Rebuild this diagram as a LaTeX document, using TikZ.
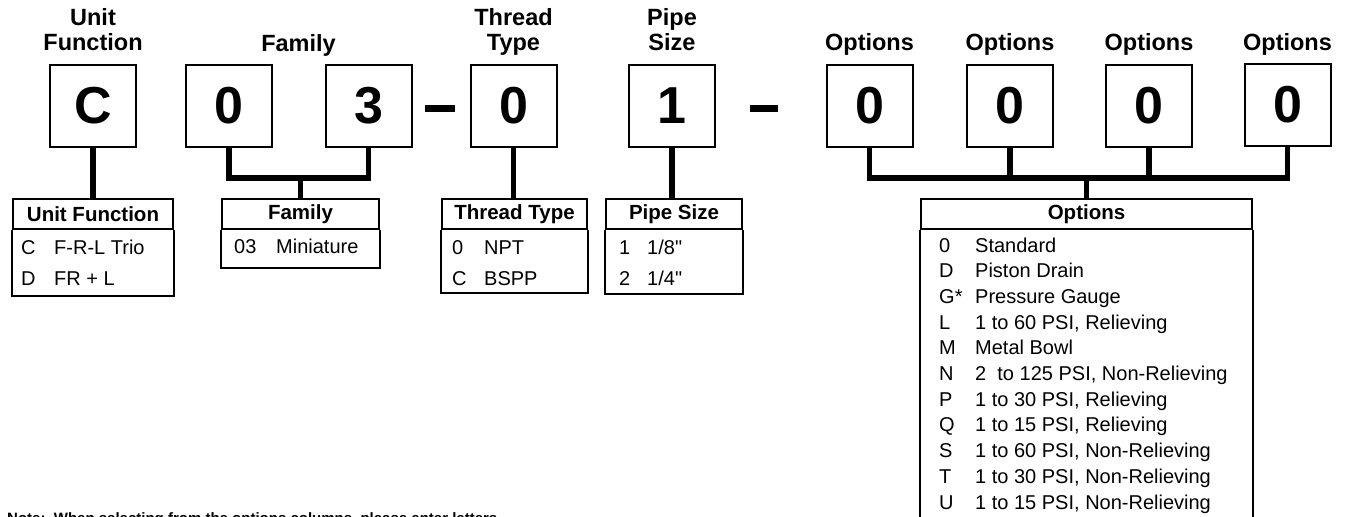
\documentclass[tikz,border=0pt]{standalone}
\usepackage{fontspec}
\setmainfont{Liberation Sans}[Ligatures=TeXOff]
\usetikzlibrary{positioning}

\tikzset{
  codebox/.style={draw, line width=2pt, minimum width=86pt, minimum height=82pt, inner sep=0pt, font=\bfseries\fontsize{52}{52}\selectfont},
  caption/.style={align=center, inner sep=0pt, text depth=0pt, font=\bfseries\fontsize{23.5}{25}\selectfont},
  link/.style={line width=5.5pt},
  dashbar/.style={line width=7pt},
  thead/.style={draw, line width=2pt, minimum height=30pt, inner sep=0pt, font=\bfseries\fontsize{20.5}{20.5}\selectfont},
  tframe/.style={line width=2pt},
  entry/.style={anchor=base west, inner sep=0pt, font=\fontsize{20}{20}\selectfont},
  note/.style={anchor=base west, inner sep=0pt, font=\bfseries\fontsize{15}{15}\selectfont},
}

\begin{document}
\begin{tikzpicture}[x=1pt,y=1pt,yscale=-1]
\useasboundingbox (0,0) rectangle (1361,517);

% code boxes
\node[codebox] (uf) at (93,106) {C};
\node[codebox] (fam0) at (229,106) {0};
\node[codebox] (fam3) at (368.5,106) {3};
\node[codebox] (thr) at (513.5,106) {0};
\node[codebox] (pipe) at (672,106) {1};
\node[codebox] (opt1) at (869.5,106) {0};
\node[codebox] (opt2) at (1010,106) {0};
\node[codebox] (opt3) at (1149,106) {0};
\node[codebox] (opt4) at (1287.5,105) {0};

% dashes between groups
\draw[dashbar] (425,108) -- (455,108);
\draw[dashbar] (750,108) -- (778,108);

% captions over the boxes
\coordinate (famtop) at (298.5,65);
\node[caption, above=13.5pt of uf] (ufcap) {Unit\\Function};
\node[caption, above=13.5pt of famtop] (famcap) {Family};
\node[caption, above=13.5pt of thr] (thrcap) {Thread\\Type};
\node[caption, above=13.5pt of pipe] (pipecap) {Pipe\\Size};
\node[caption, above=13.5pt of opt1] (opt1cap) {Options};
\node[caption, above=13.5pt of opt2] (opt2cap) {Options};
\node[caption, above=13.5pt of opt3] (opt3cap) {Options};
\node[caption, above=12.5pt of opt4] (opt4cap) {Options};

% table heads
\node[thead, minimum width=160pt] (ufhead) at (93,214) {Unit Function};
\node[thead, minimum width=157pt] (famhead) at (300.5,214) {Family};
\node[thead, minimum width=145pt] (thrhead) at (514.5,214) {Thread Type};
\node[thead, minimum width=136pt] (pipehead) at (674,214) {Pipe Size};
\node[thead, minimum width=331pt] (opthead) at (1086.5,214) {Options};

% table bodies
\draw[tframe] (ufhead.south west) -- ++(0,66) -| (ufhead.south east);
\draw[tframe] (famhead.south west) -- ++(0,38) -| (famhead.south east);
\draw[tframe] (thrhead.south west) -- ++(0,63) -| (thrhead.south east);
\draw[tframe] (pipehead.south west) -- ++(0,64) -| (pipehead.south east);
\draw[tframe] (opthead.south west) -- ++(0,340);
\draw[tframe] (opthead.south east) -- ++(0,340);

% connectors
\draw[link] (uf.south) -- (uf.south |- ufhead.north);
\draw[link] (fam0.south) -- ++(0,30) coordinate (fambus) -| (fam3.south);
\draw[link] (famhead.north) -- (famhead.north |- fambus);
\draw[link] (thr.south) -- (thr.south |- thrhead.north);
\draw[link] (pipe.south) -- (pipe.south |- pipehead.north);
\draw[link] (opt1.south) -- ++(0,30) coordinate (optbus) -| (opt4.south);
\draw[link] (opt2.south) -- (opt2.south |- optbus);
\draw[link] (opt3.south) -- (opt3.south |- optbus);
\draw[link] (opthead.north) -- (opthead.north |- optbus);

% entries
\foreach \k/\t [count=\i from 0] in {C/F-R-L Trio, D/FR + L}
  {\node[entry] (ufk\i) at (21,254+31*\i) {\k};
   \node[entry] (uft\i) at (54,254+31*\i) {\t};}
\node[entry] (famk0) at (234,253) {03};
\node[entry] (famt0) at (276,253) {Miniature};
\foreach \k/\t [count=\i from 0] in {0/NPT, C/BSPP}
  {\node[entry] (thrk\i) at (452,254+31*\i) {\k};
   \node[entry] (thrt\i) at (484,254+31*\i) {\t};}
\foreach \k/\t [count=\i from 0] in {1/{1/8"}, 2/{1/4"}}
  {\node[entry] (pipek\i) at (619,254+31*\i) {\k};
   \node[entry] (pipet\i) at (647,254+31*\i) {\t};}
\foreach \k/\t [count=\i from 0] in {0/Standard, D/Piston Drain, G*/Pressure Gauge,
    L/{1 to 60 PSI, Relieving}, M/Metal Bowl, N/{2~ to 125 PSI, Non-Relieving},
    P/{1 to 30 PSI, Relieving}, Q/{1 to 15 PSI, Relieving},
    S/{1 to 60 PSI, Non-Relieving}, T/{1 to 30 PSI, Non-Relieving},
    U/{1 to 15 PSI, Non-Relieving}}
  {\node[entry] (optk\i) at (939,252+25.7*\i) {\k};
   \node[entry] (optt\i) at (975,252+25.7*\i) {\t};}

% note
\node[note] (note) at (7,523) {Note:\ \ When selecting from the options columns, please enter letters};
\end{tikzpicture}
\end{document}
